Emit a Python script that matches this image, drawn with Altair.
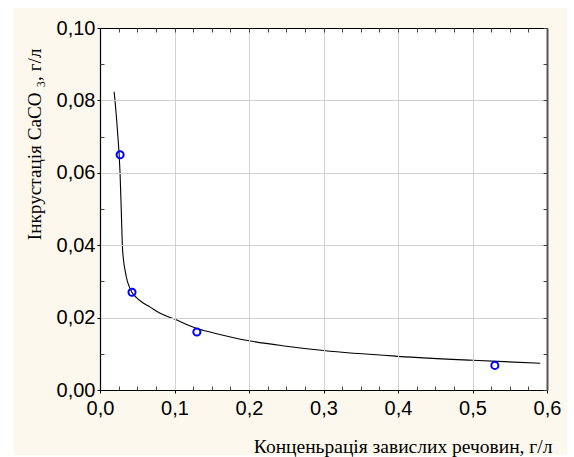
import altair as alt
import pandas as pd

# measured points
pts_x = [0.027, 0.043, 0.130, 0.530]
pts_y = [0.065, 0.027, 0.016, 0.0068]

# fitted curve
curve_x = [0.019, 0.0235, 0.0269, 0.0285, 0.0300, 0.0318, 0.0336, 0.0365, 0.0394, 0.0426,
           0.049, 0.0575, 0.0673, 0.0807, 0.100, 0.130, 0.150, 0.200, 0.250, 0.300,
           0.400, 0.500, 0.591]
curve_y = [0.0824, 0.0715, 0.060, 0.050, 0.040, 0.0355, 0.0331, 0.0302, 0.0285, 0.0271,
           0.0255, 0.0241, 0.0229, 0.0212, 0.0196, 0.0170, 0.0159, 0.0136, 0.0121, 0.0109,
           0.0093, 0.0082, 0.0074]

x_major = [0.0, 0.1, 0.2, 0.3, 0.4, 0.5, 0.6]
y_major = [0.0, 0.02, 0.04, 0.06, 0.08, 0.10]
x_minor = [0.025, 0.05, 0.075, 0.125, 0.15, 0.175, 0.225, 0.25, 0.275, 0.325, 0.35, 0.375,
           0.425, 0.45, 0.475, 0.525, 0.55, 0.575]
y_minor = [0.01, 0.03, 0.05, 0.07, 0.09]

x_title = "Конценьрація завислих речовин, г/л"
y_title = "Інкрустація CaCO ₃, г/л"

W, H = 447, 362
CREAM = "#FDF8EE"

pts = pd.DataFrame({"x": pts_x, "y": pts_y})
curve = pd.DataFrame({"x": curve_x, "y": curve_y})
one = pd.DataFrame({"a": [0]})

xs = alt.Scale(domain=[0, 0.6], nice=False, zero=False)
ys = alt.Scale(domain=[0, 0.10], nice=False, zero=False)

bg = alt.Chart(one).mark_rect(color=CREAM, clip=False).encode(
    x=alt.value(-86), x2=alt.value(467), y=alt.value(-20), y2=alt.value(427))
plotbg = alt.Chart(one).mark_rect(color="white").encode(
    x=alt.value(0), x2=alt.value(W), y=alt.value(0), y2=alt.value(H))

line = alt.Chart(curve).mark_line(color="black", strokeWidth=1.1, interpolate="monotone").encode(
    x=alt.X("x:Q", scale=xs, axis=alt.Axis(
        values=x_major, labelExpr="replace(format(datum.value, '.1f'), '.', ',')",
        labelFlush=False, labelFontSize=20,
        grid=True, gridColor="#D2D2D2", gridWidth=1, domainColor="black", domainWidth=1.2,
        tickColor="black", tickSize=3, labelPadding=5,
        title=x_title, titleAngle=0, titleAlign="right", titleX=452, titleY=62,
        titleFontSize=19.5, titleBaseline="alphabetic", zindex=1)),
    y=alt.Y("y:Q", scale=ys, axis=alt.Axis(
        values=y_major, labelExpr="replace(format(datum.value, '.2f'), '.', ',')",
        labelFlush=False, labelFontSize=20,
        grid=True, gridColor="#D2D2D2", gridWidth=1, domainColor="black", domainWidth=1.2,
        tickColor="black", tickSize=3, labelPadding=2,
        title=y_title, titleAngle=270, titleAlign="right", titleX=-60, titleY=20,
        titleFontSize=19.2, titleBaseline="alphabetic", zindex=1)),
)

points = alt.Chart(pts).mark_point(shape="circle", filled=False, color="#0000FF",
                                   size=50, strokeWidth=2, opacity=1).encode(
    x=alt.X("x:Q", scale=xs, axis=None),
    y=alt.Y("y:Q", scale=ys, axis=None),
)

frame = alt.Chart(pts).mark_point(opacity=0).encode(
    x=alt.X("x:Q", scale=xs, axis=alt.Axis(orient="top", labels=False, ticks=False, grid=False,
                                           title=None, domainColor="black", domainWidth=1.2, zindex=1)),
    y=alt.Y("y:Q", scale=ys, axis=alt.Axis(orient="right", labels=False, ticks=False, grid=False,
                                           title=None, domainColor="#555555", domainWidth=2, zindex=1)),
)

minor_tr = alt.Chart(pts).mark_point(opacity=0).encode(
    x=alt.X("x:Q", scale=xs, axis=alt.Axis(orient="top", values=x_minor + x_major, labels=False,
                                           domain=False, grid=False, title=None, offset=-4,
                                           tickSize=4, tickColor="#444444", zindex=1)),
    y=alt.Y("y:Q", scale=ys, axis=alt.Axis(orient="right", values=y_minor + y_major, labels=False,
                                           domain=False, grid=False, title=None, offset=-4,
                                           tickSize=4, tickColor="#444444", zindex=1)),
)

minor_bl = alt.Chart(pts).mark_point(opacity=0).encode(
    x=alt.X("x:Q", scale=xs, axis=alt.Axis(orient="bottom", values=x_minor, labels=False,
                                           domain=False, grid=False, title=None, offset=-4,
                                           tickSize=4, tickColor="#444444", zindex=1)),
    y=alt.Y("y:Q", scale=ys, axis=alt.Axis(orient="left", values=y_minor, labels=False,
                                           domain=False, grid=False, title=None, offset=-4,
                                           tickSize=4, tickColor="#444444", zindex=1)),
)

chart = alt.layer(bg, plotbg, line, points, frame, minor_tr, minor_bl).resolve_axis(
    x="independent", y="independent"
).properties(
    width=W, height=H,
    padding={"left": 100, "top": 28, "right": 27, "bottom": 67},
    autosize=alt.AutoSizeParams(type="none"),
    background="white",
).configure_view(stroke=None).configure_axis(
    labelFont="Liberation Sans", labelFontSize=19, labelColor="black",
    titleFont="Liberation Serif", titleFontSize=19, titleFontWeight="normal", titleColor="black",
)

chart.save("out.html", embed_options={"renderer": "svg", "actions": False})
